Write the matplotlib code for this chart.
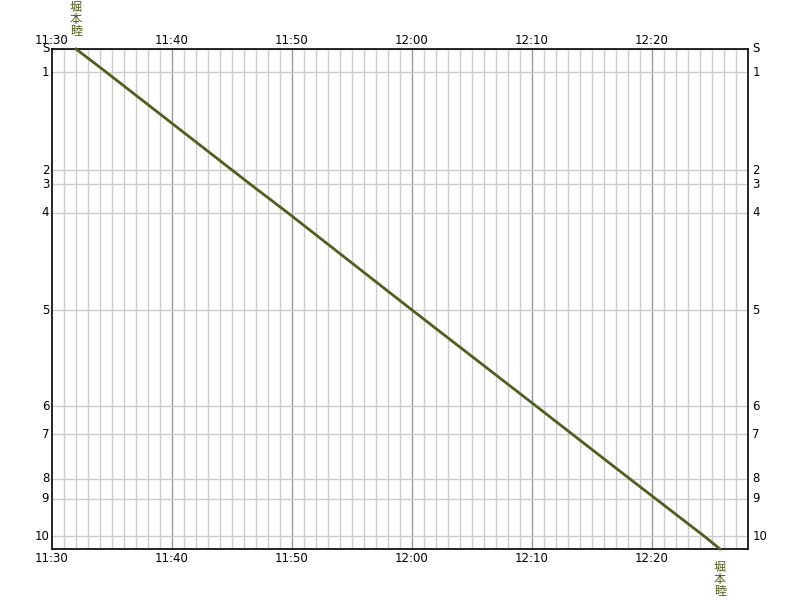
import matplotlib
matplotlib.use("Agg")
from matplotlib import pyplot as plt

LINE_COLOR = "#4F5F1F"
MINOR_GRID = "#CCCCCC"
MAJOR_GRID = "#9A9A9A"

# stations and their distance along the line
stations = ["S", "1", "2", "3", "4", "5", "6", "7", "8", "9", "10"]
station_dist = [0.0, 2.3, 12.1, 13.5, 16.4, 26.1, 35.7, 38.5, 43.0, 45.0, 48.7]
line_end = 50.0

# train run (time passing each point)
train_name = "堀本睦"
train_times = ["11:32:00", "11:34:30", "11:45:00", "11:46:30", "11:49:40", "12:00:00",
               "12:10:20", "12:13:20", "12:18:10", "12:20:20", "12:24:20", "12:25:40"]
train_dist = station_dist + [line_end]

start_time = "11:30"
end_time = "12:28"


def to_min(t):
    parts = [int(p) for p in t.split(":")]
    while len(parts) < 3:
        parts.append(0)
    return parts[0] * 60 + parts[1] + parts[2] / 60


def fmt(m):
    return "%d:%02d" % (int(m) // 60, int(m) % 60)


x0, x1 = to_min(start_time), to_min(end_time)
xs = [to_min(t) for t in train_times]

fig = plt.figure(figsize=(8.01, 6.0), dpi=100)
ax = fig.add_axes([52 / 801, 51 / 600, 696 / 801, 500 / 600])
ax.set_xlim(x0, x1)
ax.set_ylim(line_end, 0)

# grid
for m in range(int(x0) + 1, int(x1)):
    major = m % 10 == 0
    ax.axvline(m, color=MAJOR_GRID if major else MINOR_GRID, lw=1, zorder=1)
for d in station_dist:
    ax.axhline(d, color=MINOR_GRID, lw=1, zorder=1)

ax.plot(xs, train_dist, color=LINE_COLOR, lw=2, zorder=3, clip_on=False)

for s in ax.spines.values():
    s.set_color("black")
    s.set_linewidth(1.2)

ax.set_xticks([])
ax.set_yticks([])

ticks = list(range(int(x0), int(x1), 10))
for m in ticks:
    ax.text(m, -0.2, fmt(m), ha="center", va="bottom", fontsize=8.5)
    ax.text(m, line_end + 0.3, fmt(m), ha="center", va="top", fontsize=8.5)

trans_l = ax.get_yaxis_transform()
for name, d in zip(stations, station_dist):
    ax.text(-0.004, d, name, transform=trans_l, ha="right", va="center", fontsize=8.5)
    ax.text(1.006, d, name, transform=trans_l, ha="left", va="center", fontsize=8.5)

# train name written vertically, one character per row (px -> pt is 0.72)
cjk = ["Noto Sans CJK JP", "DejaVu Sans"]
for i, ch in enumerate(train_name):
    ax.annotate(ch, (xs[0], 0), xytext=(0, (41 - 12 * i) * 0.72),
                textcoords="offset points", ha="center", va="center",
                fontsize=8.8, color=LINE_COLOR, family=cjk)
    ax.annotate(ch, (xs[-1], line_end), xytext=(0, -(18 + 12 * i) * 0.72),
                textcoords="offset points", ha="center", va="center",
                fontsize=8.8, color=LINE_COLOR, family=cjk)

fig.savefig("out.png", dpi=100)
